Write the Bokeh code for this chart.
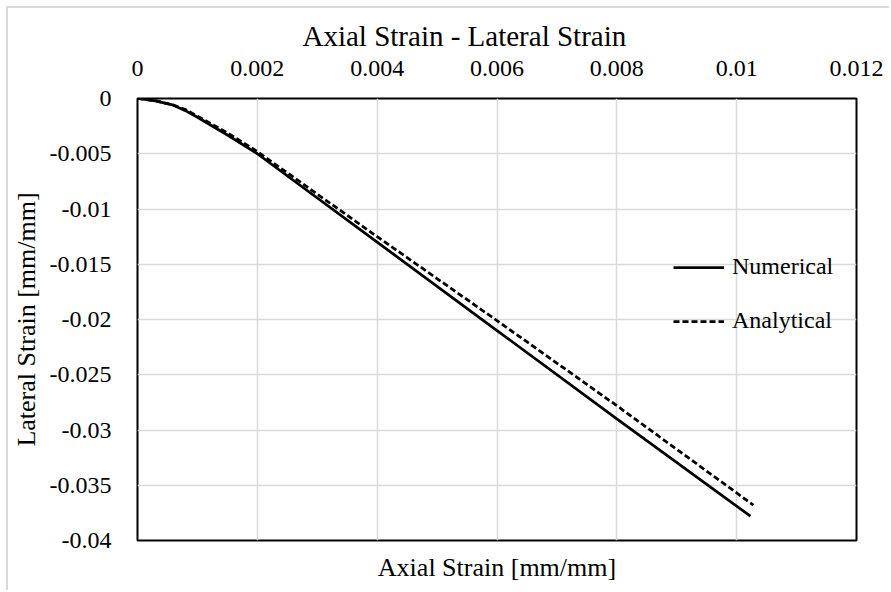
from bokeh.plotting import figure
from bokeh.models import FixedTicker, Range1d, Legend, LegendItem, Title
from bokeh.embed import file_html
from bokeh.resources import INLINE

# ---- data ----
num_x = [0, 0.0003, 0.0006, 0.0008, 0.0010, 0.0015, 0.0020, 0.0040, 0.0060, 0.0080, 0.01023]
num_y = [0, -0.00022, -0.0006, -0.0011, -0.0017, -0.0033, -0.0050, -0.0130, -0.0210, -0.0290, -0.0378]
ana_x = [0, 0.0003, 0.0006, 0.0008, 0.0010, 0.0015, 0.0020, 0.0040, 0.0060, 0.0080, 0.01028]
ana_y = [0, -0.0002, -0.0006, -0.0010, -0.0016, -0.0031, -0.0048, -0.0125, -0.0201, -0.0278, -0.0368]

x_ticks = [0, 0.002, 0.004, 0.006, 0.008, 0.010, 0.012]
x_tick_labels = ["0", "0.002", "0.004", "0.006", "0.008", "0.01", "0.012"]
y_ticks = [0, -0.005, -0.01, -0.015, -0.02, -0.025, -0.03, -0.035, -0.04]
y_tick_labels = ["0", "-0.005", "-0.01", "-0.015", "-0.02", "-0.025", "-0.03", "-0.035", "-0.04"]

title_text = "Axial Strain - Lateral Strain"
x_label = "Axial Strain [mm/mm]"
y_label = "Lateral Strain [mm/mm]"
series_names = ["Numerical", "Analytical"]

FONT = "Liberation Serif"
GRID = "#d9d9d9"

p = figure(width=883, height=584, output_backend="svg", toolbar_location=None,
           x_range=Range1d(0, 0.012), y_range=Range1d(-0.04, 0),
           x_axis_location="above",
           min_border_left=127, min_border_right=35, min_border_top=90, min_border_bottom=52)
p.styles = {"margin-left": "6px", "margin-top": "6px",
            "border-left": "2px solid #d9d9d9", "border-top": "2px solid #d9d9d9"}

p.title.text = title_text
p.title.align = "left"
p.title.offset = 165
p.title.text_font = FONT
p.title.text_font_style = "normal"
p.title.text_font_size = "29px"
p.title.text_color = "#000000"
p.title.standoff = 12

p.outline_line_color = "black"
p.outline_line_width = 2
p.outline_line_alpha = 1

for ax, ticks, labels in ((p.xaxis[0], x_ticks, x_tick_labels), (p.yaxis[0], y_ticks, y_tick_labels)):
    ax.ticker = FixedTicker(ticks=ticks)
    ax.major_label_overrides = {t: l for t, l in zip(ticks, labels)}
    ax.axis_line_color = None
    ax.major_tick_line_color = None
    ax.minor_tick_line_color = None
    ax.major_label_text_font = FONT
    ax.major_label_text_font_size = "24px"
    ax.major_label_text_color = "#000000"

p.xaxis[0].major_label_standoff = 17
p.yaxis[0].major_label_standoff = 20
p.yaxis[0].axis_label = y_label
p.yaxis[0].axis_label_text_font = FONT
p.yaxis[0].axis_label_text_font_style = "normal"
p.yaxis[0].axis_label_text_font_size = "26px"
p.yaxis[0].axis_label_text_color = "#000000"
p.yaxis[0].axis_label_standoff = 6

p.add_layout(Title(text=x_label, align="center", text_font=FONT, text_font_style="normal",
                   text_font_size="26px", text_color="#000000", standoff=20), "below")

p.xgrid.grid_line_color = GRID
p.ygrid.grid_line_color = GRID
p.xgrid.grid_line_width = 1.5
p.ygrid.grid_line_width = 1.5

r1 = p.line(num_x, num_y, line_color="black", line_width=2.75)
r2 = p.line(ana_x, ana_y, line_color="black", line_width=2.75, line_dash="6 3")

legend = Legend(items=[LegendItem(label=series_names[0], renderers=[r1]),
                       LegendItem(label=series_names[1], renderers=[r2])],
                location=(536, 206), orientation="vertical",
                background_fill_alpha=0, border_line_color=None,
                label_text_font=FONT, label_text_font_size="24px", label_text_color="#000000",
                glyph_width=51, glyph_height=24, label_height=24,
                spacing=27, padding=0, margin=0, label_standoff=8)
p.add_layout(legend, "center")

open("out.html", "w").write(file_html(p, INLINE))
